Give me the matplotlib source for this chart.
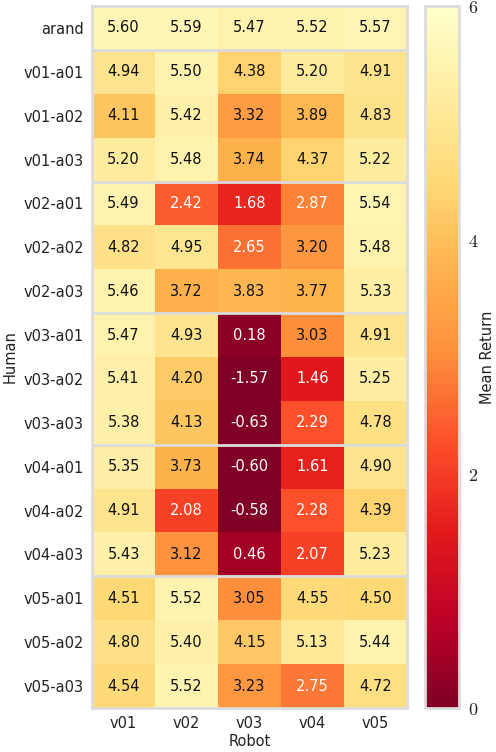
import numpy as np
import matplotlib
matplotlib.use("Agg")
import matplotlib.pyplot as plt
from matplotlib.ticker import FuncFormatter

humans = ['arand',
          'v01-a01', 'v01-a02', 'v01-a03',
          'v02-a01', 'v02-a02', 'v02-a03',
          'v03-a01', 'v03-a02', 'v03-a03',
          'v04-a01', 'v04-a02', 'v04-a03',
          'v05-a01', 'v05-a02', 'v05-a03']
robots = ['v01', 'v02', 'v03', 'v04', 'v05']

returns = [
    [5.60, 5.59, 5.47, 5.52, 5.57],
    [4.94, 5.50, 4.38, 5.20, 4.91],
    [4.11, 5.42, 3.32, 3.89, 4.83],
    [5.20, 5.48, 3.74, 4.37, 5.22],
    [5.49, 2.42, 1.68, 2.87, 5.54],
    [4.82, 4.95, 2.65, 3.20, 5.48],
    [5.46, 3.72, 3.83, 3.77, 5.33],
    [5.47, 4.93, 0.18, 3.03, 4.91],
    [5.41, 4.20, -1.57, 1.46, 5.25],
    [5.38, 4.13, -0.63, 2.29, 4.78],
    [5.35, 3.73, -0.60, 1.61, 4.90],
    [4.91, 2.08, -0.58, 2.28, 4.39],
    [5.43, 3.12, 0.46, 2.07, 5.23],
    [4.51, 5.52, 3.05, 4.55, 4.50],
    [4.80, 5.40, 4.15, 5.13, 5.44],
    [4.54, 5.52, 3.23, 2.75, 4.72],
]
group_breaks = [1, 4, 7, 10, 13]

plt.rcParams['font.family'] = ['DejaVu Sans']
plt.rcParams['mathtext.fontset'] = 'cm'
grey = '#dcdcdc'

data = np.array(returns)
fig = plt.figure(figsize=(4.96, 7.52), dpi=100)
ax = fig.add_axes([0.1855, 0.0585, 0.635, 0.9335])
cax = fig.add_axes([0.857, 0.0585, 0.069, 0.9335])

im = ax.imshow(data, cmap='YlOrRd_r', vmin=0, vmax=6, aspect='auto',
               interpolation='nearest')

for i in range(data.shape[0]):
    for j in range(data.shape[1]):
        v = data[i, j]
        ax.text(j, i, '%.2f' % v, ha='center', va='center', fontsize=10.5,
                color='white' if v < 3.0 else '#111111')

# separators between human groups
for b in group_breaks:
    ax.axhline(b - 0.5, color=grey, lw=2)

ax.set_xticks(range(len(robots)))
ax.set_xticklabels(robots, fontsize=10.5, color='#222222')
ax.set_yticks(range(len(humans)))
ax.set_yticklabels(humans, fontsize=10.5, color='#222222')
ax.tick_params(length=0, pad=6)
ax.set_xlabel('Robot', fontsize=10.5, color='#222222', labelpad=2)
ax.set_ylabel('Human', fontsize=10.5, color='#222222', labelpad=4)
for s in ax.spines.values():
    s.set_color(grey)
    s.set_linewidth(2)

cb = fig.colorbar(im, cax=cax, ticks=[0, 2, 4, 6])
cb.outline.set_edgecolor(grey)
cb.outline.set_linewidth(2)
cax.tick_params(length=0, pad=6, labelsize=13, colors='#222222')
cax.yaxis.set_major_formatter(FuncFormatter(lambda x, p: '$%d$' % x))
cb.set_label('Mean Return', fontsize=10.5, color='#222222', labelpad=1)

fig.savefig('out.png', dpi=100)
